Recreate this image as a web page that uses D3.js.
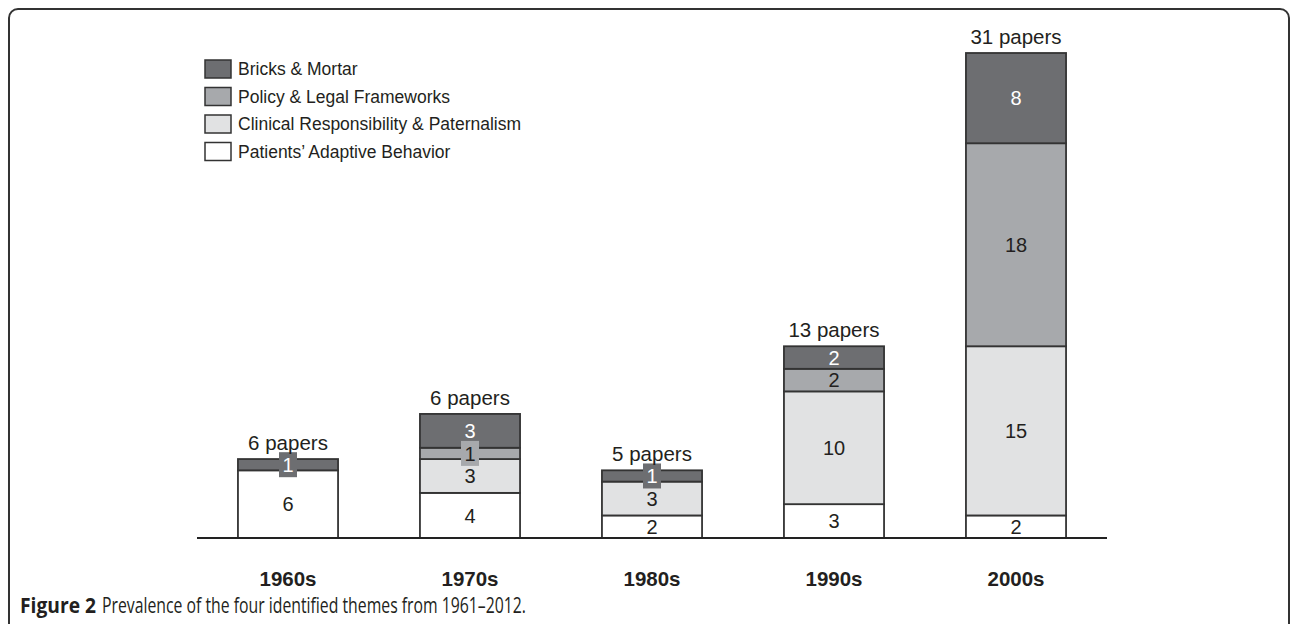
<!DOCTYPE html>
<html lang="en">

<head>
    <title>Prevalence of the four identified themes</title>
    <meta charset="utf-8">
    <script src="https://d3js.org/d3.v7.min.js"></script>
    <style>
        body { margin: 0; background: #fff; }
        svg { display: block; font-family: "Liberation Sans", Arial, Helvetica, sans-serif; }
        .caption { font-family: "Open Sans", "DejaVu Sans Condensed", sans-serif; }
    </style>
</head>

<body>
    <div id="container1"></div>
    <script>
        // Data
        const decades = ["1960s", "1970s", "1980s", "1990s", "2000s"];
        const patients = [6, 4, 2, 3, 2];
        const clinical = [0, 3, 3, 10, 15];
        const policy = [0, 1, 0, 2, 18];
        const bricks = [1, 3, 1, 2, 8];
        const papers = [6, 6, 5, 13, 31];

        const themes = [
            { key: "patients", name: "Patients\u2019 Adaptive Behavior", values: patients, color: "#ffffff", text: "#231f20" },
            { key: "clinical", name: "Clinical Responsibility & Paternalism", values: clinical, color: "#e1e2e3", text: "#231f20" },
            { key: "policy", name: "Policy & Legal Frameworks", values: policy, color: "#a7a9ac", text: "#231f20" },
            { key: "bricks", name: "Bricks & Mortar", values: bricks, color: "#6d6e71", text: "#ffffff" }
        ];

        // Create chart dimensions
        const width = 1290;
        const height = 624;
        const baseY = 538;

        const wrapper = d3.select("#container1")
            .append("svg")
            .attr("width", width)
            .attr("height", height);

        // Frame
        wrapper.append("rect")
            .attr("x", 9)
            .attr("y", 9)
            .attr("width", 1280)
            .attr("height", 700)
            .attr("rx", 9)
            .attr("fill", "none")
            .attr("stroke", "#333")
            .attr("stroke-width", 2);

        // Create scales
        const x = d3.scaleBand()
            .domain(decades)
            .range([197, 1107])
            .paddingInner(0.45)
            .paddingOuter(0.225);

        const y = d3.scaleLinear()
            .domain([0, 43])
            .range([baseY, 53]);

        // Stack the series
        const table = decades.map((d, i) => {
            const row = { decade: d };
            themes.forEach(t => row[t.key] = t.values[i]);
            return row;
        });
        const stacked = d3.stack().keys(themes.map(t => t.key))(table);

        // Draw data
        const segments = [];
        stacked.forEach((layer, li) => {
            layer.forEach(s => {
                if (s[1] - s[0] > 0) segments.push({ theme: themes[li], decade: s.data.decade, y0: s[0], y1: s[1], v: s[1] - s[0] });
            });
        });

        wrapper.selectAll(".seg")
            .data(segments)
            .enter().append("rect")
            .attr("class", "seg")
            .attr("x", d => x(d.decade))
            .attr("y", d => y(d.y1))
            .attr("width", x.bandwidth())
            .attr("height", d => y(d.y0) - y(d.y1))
            .attr("fill", d => d.theme.color)
            .attr("stroke", "#333")
            .attr("stroke-width", 1.8);

        // Small boxes behind the single-paper labels
        wrapper.selectAll(".seg-box")
            .data(segments.filter(d => d.v === 1))
            .enter().append("rect")
            .attr("class", "seg-box")
            .attr("x", d => x(d.decade) + x.bandwidth() / 2 - 9)
            .attr("y", d => (y(d.y0) + y(d.y1)) / 2 - 12.5)
            .attr("width", 18)
            .attr("height", 25)
            .attr("fill", d => d.theme.color);

        wrapper.selectAll(".seg-label")
            .data(segments)
            .enter().append("text")
            .attr("class", "seg-label")
            .attr("x", d => x(d.decade) + x.bandwidth() / 2)
            .attr("y", d => (y(d.y0) + y(d.y1)) / 2)
            .attr("dy", "0.36em")
            .attr("text-anchor", "middle")
            .attr("font-size", 20)
            .attr("fill", d => d.theme.text)
            .text(d => d.v);

        // Totals above the bars
        wrapper.selectAll(".total")
            .data(table)
            .enter().append("text")
            .attr("class", "total")
            .attr("x", d => x(d.decade) + x.bandwidth() / 2)
            .attr("y", (d, i) => y(stacked[stacked.length - 1][i][1]) - 9)
            .attr("text-anchor", "middle")
            .attr("font-size", 20.5)
            .attr("fill", "#231f20")
            .text((d, i) => `${papers[i]} papers`);

        // Base line
        wrapper.append("line")
            .attr("x1", 197)
            .attr("x2", 1107)
            .attr("y1", baseY)
            .attr("y2", baseY)
            .attr("stroke", "#222")
            .attr("stroke-width", 2);

        // Decade labels
        wrapper.selectAll(".decade")
            .data(decades)
            .enter().append("text")
            .attr("class", "decade")
            .attr("x", d => x(d) + x.bandwidth() / 2)
            .attr("y", 586)
            .attr("text-anchor", "middle")
            .attr("font-size", 20.5)
            .attr("font-weight", "bold")
            .attr("fill", "#231f20")
            .text(d => d);

        // Add legend
        const legend = wrapper.append("g")
            .attr("class", "legend")
            .attr("transform", "translate(205, 60)");

        const legendItems = legend.selectAll("g")
            .data(themes.slice().reverse())
            .enter().append("g")
            .attr("transform", (d, i) => `translate(0, ${i * 27.5})`);

        legendItems.append("rect")
            .attr("width", 26)
            .attr("height", 18)
            .attr("fill", d => d.color)
            .attr("stroke", "#333")
            .attr("stroke-width", 1.5);

        legendItems.append("text")
            .attr("x", 33)
            .attr("y", 9)
            .attr("dy", "0.36em")
            .attr("font-size", 17.5)
            .attr("fill", "#231f20")
            .text(d => d.name);

        // Caption
        wrapper.append("text")
            .attr("class", "caption")
            .attr("x", 20)
            .attr("y", 613)
            .attr("font-size", 21)
            .attr("font-weight", "bold")
            .attr("fill", "#231f20")
            .attr("textLength", 76)
            .attr("lengthAdjust", "spacingAndGlyphs")
            .text("Figure 2");

        wrapper.append("text")
            .attr("class", "caption")
            .attr("x", 102)
            .attr("y", 613)
            .attr("font-size", 21)
            .attr("fill", "#231f20")
            .attr("textLength", 424)
            .attr("lengthAdjust", "spacingAndGlyphs")
            .text("Prevalence of the four identified themes from 1961\u20132012.");
    </script>
</body>

</html>
